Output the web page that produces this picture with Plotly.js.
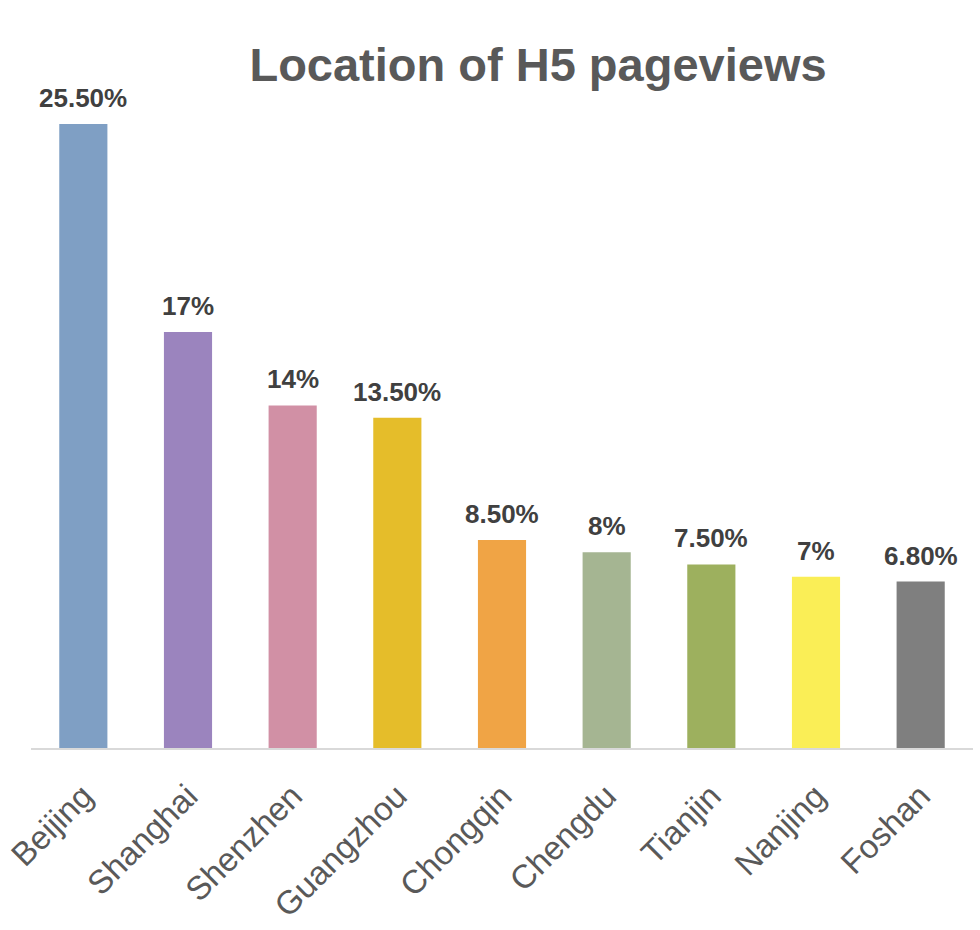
<!DOCTYPE html>
<html>
<head>
<meta charset="utf-8">
<script src="https://cdn.plot.ly/plotly-3.0.1.min.js"></script>
<style>html,body{margin:0;padding:0;background:#fff;}#chart{width:980px;height:930px;}</style>
</head>
<body>
<div id="chart"></div>
<script>
var cities = ["Beijing","Shanghai","Shenzhen","Guangzhou","Chongqin","Chengdu","Tianjin","Nanjing","Foshan"];
var shares = [25.5, 17, 14, 13.5, 8.5, 8, 7.5, 7, 6.8];
var shareLabels = ["25.50%","17%","14%","13.50%","8.50%","8%","7.50%","7%","6.80%"];
var barColors = ["#7F9FC4","#9B84BE","#D190A5","#E5BD2A","#F0A445","#A5B592","#9DB05E","#FAEE56","#7F7F7F"];

var trace = {
  type: "bar",
  x: cities,
  y: shares,
  marker: {color: barColors},
  hoverinfo: "x+y"
};

var annotations = cities.map(function(c, i){
  return {x: c, y: shares[i], xref: "x", yref: "y", text: shareLabels[i],
    showarrow: false, yanchor: "bottom", yshift: 9,
    font: {family: "Liberation Sans, Arial, sans-serif", size: 26, color: "#404040", weight: "bold"}};
});

var layout = {
  width: 980, height: 930,
  margin: {l: 31, r: 7, t: 100, b: 182},
  paper_bgcolor: "#fff", plot_bgcolor: "#fff",
  bargap: 0.54,
  showlegend: false,
  title: {text: "<b>Location of H5 pageviews</b>", x: 0.549, xanchor: "center", y: 0.931, yanchor: "middle",
    font: {family: "Liberation Sans, Arial, sans-serif", size: 47, color: "#595959"}},
  xaxis: {type: "category", showline: true, linecolor: "#D9D9D9", linewidth: 1.5,
    ticks: "", tickangle: -45, ticklabelstandoff: 14,
    tickfont: {family: "Liberation Sans, Arial, sans-serif", size: 33, color: "#595959"}},
  yaxis: {range: [0, 26.48], showgrid: false, zeroline: false, showticklabels: false, showline: false, ticks: ""},
  annotations: annotations
};

Plotly.newPlot("chart", [trace], layout, {displayModeBar: false, staticPlot: true});
</script>
</body>
</html>
